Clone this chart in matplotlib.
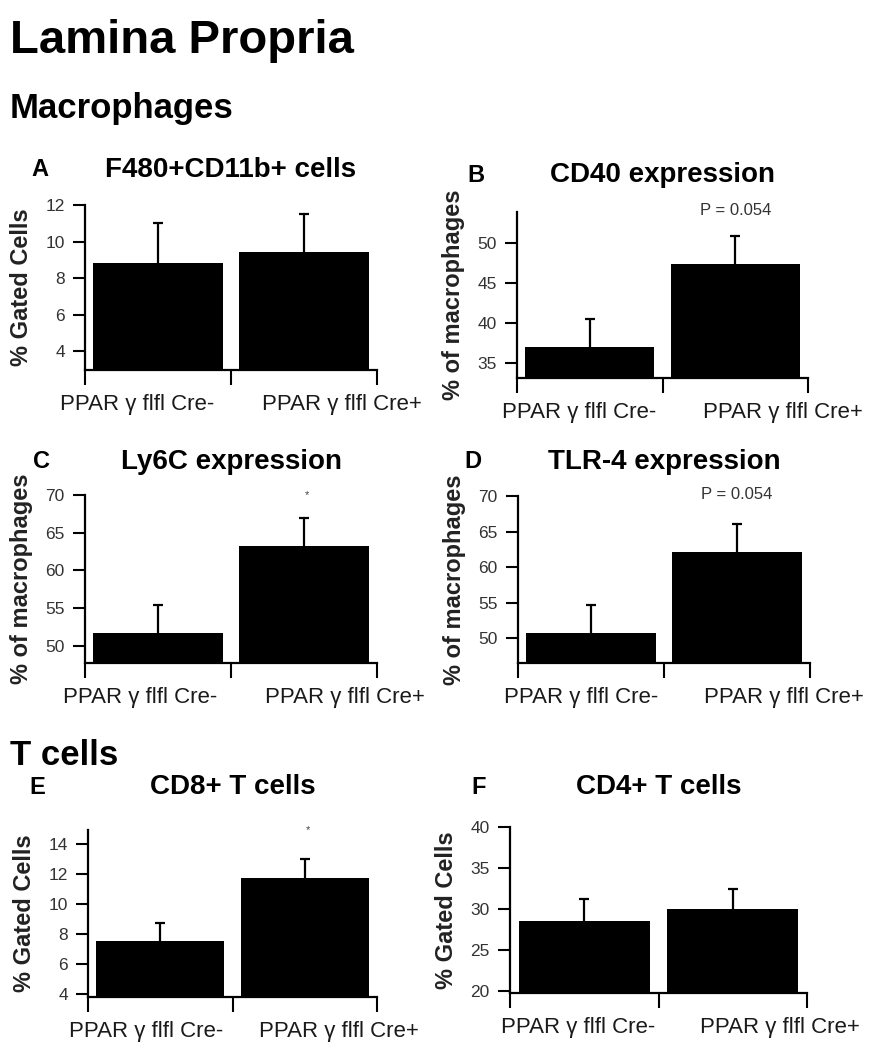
import matplotlib.pyplot as plt

plt.rcParams['font.family'] = ['Liberation Sans', 'DejaVu Sans']

groups = ["PPAR \u03b3 flfl Cre-", "PPAR \u03b3 flfl Cre+"]

# panel data: mean and upper error (SEM) per group
f480_mean = [8.82, 9.4]
f480_err = [2.2, 2.1]
cd40_mean = [37.0, 47.4]
cd40_err = [3.5, 3.5]
ly6c_mean = [51.7, 63.2]
ly6c_err = [3.7, 3.7]
tlr4_mean = [50.7, 62.1]
tlr4_err = [4.0, 3.9]
cd8_mean = [7.5, 11.75]
cd8_err = [1.2, 1.25]
cd4_mean = [28.6, 30.0]
cd4_err = [2.6, 2.5]

panels = [
    # letter, title, ylabel, means, errs, ylim, yticks, annotation
    ("A", "F480+CD11b+ cells", "% Gated Cells", f480_mean, f480_err, (2.96, 12), [4, 6, 8, 10, 12], None),
    ("B", "CD40 expression", "% of macrophages", cd40_mean, cd40_err, (33.1, 53.9), [35, 40, 45, 50], "P = 0.054"),
    ("C", "Ly6C expression", "% of macrophages", ly6c_mean, ly6c_err, (47.7, 70), [50, 55, 60, 65, 70], "*"),
    ("D", "TLR-4 expression", "% of macrophages", tlr4_mean, tlr4_err, (46.5, 70), [50, 55, 60, 65, 70], "P = 0.054"),
    ("E", "CD8+ T cells", "% Gated Cells", cd8_mean, cd8_err, (3.8, 14.93), [4, 6, 8, 10, 12, 14], "*"),
    ("F", "CD4+ T cells", "% Gated Cells", cd4_mean, cd4_err, (19.8, 40), [20, 25, 30, 35, 40], None),
]

# layout in pixels: left, right, top, bottom of each axes, title y, label x-positions
W, H = 872, 1050
boxes = [
    (85, 377, 205, 370, 170, (0.36, 1.76)),
    (517, 808, 212, 378, 175, (0.43, 1.83)),
    (85, 377, 495, 663, 462, (0.38, 1.78)),
    (518, 810, 496, 663, 462, (0.43, 1.82)),
    (88, 377, 830, 997, 787, (0.40, 1.74)),
    (510, 807, 827, 993, 787, (0.46, 1.82)),
]
letter_x = [40, 476, 41, 473, 37, 479]

fig = plt.figure(figsize=(W / 100, H / 100), dpi=100)

fig.text(10 / W, 1 - 53 / H, "Lamina Propria", fontsize=34, fontweight="bold", va="baseline")
fig.text(10 / W, 1 - 118 / H, "Macrophages", fontsize=25, fontweight="bold", va="baseline")
fig.text(10 / W, 1 - 765 / H, "T cells", fontsize=25, fontweight="bold", va="baseline")

for (letter, title, ylabel, means, errs, ylim, yticks, note), box, lx in zip(panels, boxes, letter_x):
    l, r, t, b, ty, labpos = box
    ax = fig.add_axes([l / W, 1 - b / H, (r - l) / W, (b - t) / H])
    x = [0.5, 1.5]
    ax.bar(x, means, width=0.885, color="black", zorder=2)
    eb = ax.errorbar(x, means, yerr=[[0, 0], errs], fmt="none", ecolor="black",
                     elinewidth=1.6, capsize=3.5, capthick=1.6, zorder=3)
    # only the upper cap is drawn
    eb[1][0].set_visible(False)
    ax.set_xlim(0, 2)
    ax.set_ylim(*ylim)
    ax.set_yticks(yticks)
    ax.set_xticks([0, 1, 2])
    ax.set_xticklabels([])
    ax.set_xticks(list(labpos), minor=True)
    ax.set_xticklabels(groups, minor=True, fontsize=16, color="#1a1a1a")
    ax.tick_params(axis="x", which="major", direction="out", length=11, width=1.5)
    ax.tick_params(axis="x", which="minor", length=0, pad=17)
    ax.tick_params(axis="y", direction="out", length=8.5, width=1.5, pad=6,
                   labelsize=12.5, labelcolor="#333333")
    for s in ["top", "right"]:
        ax.spines[s].set_visible(False)
    for s in ["left", "bottom"]:
        ax.spines[s].set_linewidth(1.6)
    ax.set_ylabel(ylabel, fontsize=17, fontweight="bold", color="#222222", labelpad=9)
    if note == "*":
        ax.text(1.52, ylim[1], "*", fontsize=8, ha="center", va="center", color="#444444", clip_on=False)
    elif note:
        ax.text(1.5, ylim[1] + (ylim[1] - ylim[0]) * 0.01, note, fontsize=12, ha="center",
                va="center", color="#333333", clip_on=False)
    fig.text((l + r) / 2 / W, 1 - ty / H, title, fontsize=20, fontweight="bold", ha="center", va="center")
    fig.text(lx / W, 1 - ty / H, letter, fontsize=17, fontweight="bold", ha="center", va="center")

fig.savefig("out.png", dpi=100, facecolor="white")
